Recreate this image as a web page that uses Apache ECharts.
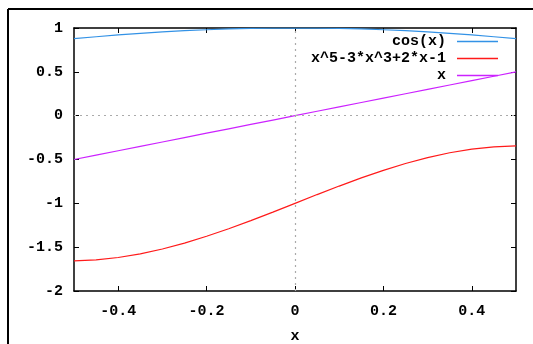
<!DOCTYPE html>
<html>
<head>
<meta charset="utf-8">
<script src="https://cdn.jsdelivr.net/npm/echarts@6/dist/echarts.min.js"></script>
<style>
  html, body { margin: 0; padding: 0; background: #fff; }
  #chart { width: 533px; height: 344px; }
</style>
</head>
<body>
<div id="chart"></div>
<script>
// Sample points along x
const xs = [-0.5, -0.45, -0.4, -0.35, -0.3, -0.25, -0.2, -0.15, -0.1, -0.05, 0,
            0.05, 0.1, 0.15, 0.2, 0.25, 0.3, 0.35, 0.4, 0.45, 0.5];

// cos(x)
const cosVals = [0.878, 0.900, 0.921, 0.939, 0.955, 0.969, 0.980, 0.989, 0.995, 0.999, 1.000,
                 0.999, 0.995, 0.989, 0.980, 0.969, 0.955, 0.939, 0.921, 0.900, 0.878];

// x^5-3*x^3+2*x-1
const polyVals = [-1.656, -1.645, -1.618, -1.577, -1.521, -1.454, -1.376, -1.290, -1.197, -1.100, -1.000,
                  -0.900, -0.803, -0.710, -0.624, -0.546, -0.479, -0.423, -0.382, -0.355, -0.344];

// x
const linVals = [-0.5, -0.45, -0.4, -0.35, -0.3, -0.25, -0.2, -0.15, -0.1, -0.05, 0,
                 0.05, 0.1, 0.15, 0.2, 0.25, 0.3, 0.35, 0.4, 0.45, 0.5];

const seriesNames = ['cos(x)', 'x^5-3*x^3+2*x-1', 'x'];
const seriesColors = ['#3392e6', '#ff1a1a', '#cc22ff'];

// Tick positions
const xTicks = [-0.4, -0.2, 0, 0.2, 0.4];
const yTicks = [-2, -1.5, -1, -0.5, 0, 0.5, 1];

const FONT = '"Liberation Mono", "DejaVu Sans Mono", monospace';
const textBase = { fontFamily: FONT, fontWeight: 'bold', fontSize: 15, color: '#000' };

function pairs(vals) {
  return xs.map((x, i) => [x, vals[i]]);
}

const chart = echarts.init(document.getElementById('chart'), null, { renderer: 'canvas' });

const xBase = {
  type: 'value', min: -0.5, max: 0.5,
  nameMoveOverlap: false,
  axisLine: { show: true, onZero: false, lineStyle: { color: '#000', width: 1.5 } },
  axisTick: { show: true, inside: true, length: 5, customValues: xTicks, lineStyle: { color: '#000' } },
  splitLine: { show: false }
};
const yBase = {
  type: 'value', min: -2, max: 1,
  nameMoveOverlap: false,
  axisLine: { show: true, onZero: false, lineStyle: { color: '#000', width: 1.5 } },
  axisTick: { show: true, inside: true, length: 5, customValues: yTicks, lineStyle: { color: '#000' } },
  splitLine: { show: false }
};

const lineSeries = [cosVals, polyVals, linVals].map((vals, i) => ({
  name: seriesNames[i],
  type: 'line',
  data: pairs(vals),
  showSymbol: false,
  symbol: 'none',
  smooth: false,
  lineStyle: { color: seriesColors[i], width: 1.2 },
  itemStyle: { color: seriesColors[i] },
  z: 3
}));

// dotted zero axes
lineSeries.push({
  type: 'line', data: [], silent: true,
  markLine: {
    silent: true, symbol: 'none', label: { show: false },
    lineStyle: { color: '#aaa', type: [2, 4], width: 1.2 },
    data: [{ xAxis: 0 }, { yAxis: 0 }]
  },
  z: 1
});

const legendRows = [34, 51, 68];

chart.setOption({
  animation: false,
  backgroundColor: '#fff',
  grid: { left: 74, top: 28, right: 17, bottom: 53, containLabel: false, outerBoundsMode: 'none' },
  xAxis: [
    Object.assign({}, xBase, {
      position: 'bottom',
      name: 'x', nameLocation: 'middle', nameGap: 38,
      nameTextStyle: textBase,
      axisLabel: Object.assign({ show: true, customValues: xTicks, margin: 13 }, textBase)
    }),
    Object.assign({}, xBase, { position: 'top', axisLabel: { show: false } })
  ],
  yAxis: [
    Object.assign({}, yBase, {
      position: 'left',
      axisLabel: Object.assign({ show: true, customValues: yTicks, margin: 11 }, textBase)
    }),
    Object.assign({}, yBase, { position: 'right', axisLabel: { show: false } })
  ],
  legend: seriesNames.map((name, i) => ({
    data: [name],
    orient: 'vertical',
    right: 35,
    top: legendRows[i],
    padding: 0,
    align: 'right',
    icon: 'rect',
    itemWidth: 41,
    itemHeight: 1.5,
    selectedMode: false,
    textStyle: Object.assign({ padding: [0, 6, 0, 0] }, textBase)
  })),
  graphic: [
    { type: 'line', shape: { x1: 8, y1: 9, x2: 533, y2: 9 }, style: { stroke: '#000', lineWidth: 2 }, silent: true },
    { type: 'line', shape: { x1: 8, y1: 9, x2: 8, y2: 344 }, style: { stroke: '#000', lineWidth: 2 }, silent: true }
  ],
  series: lineSeries
});
</script>
</body>
</html>
